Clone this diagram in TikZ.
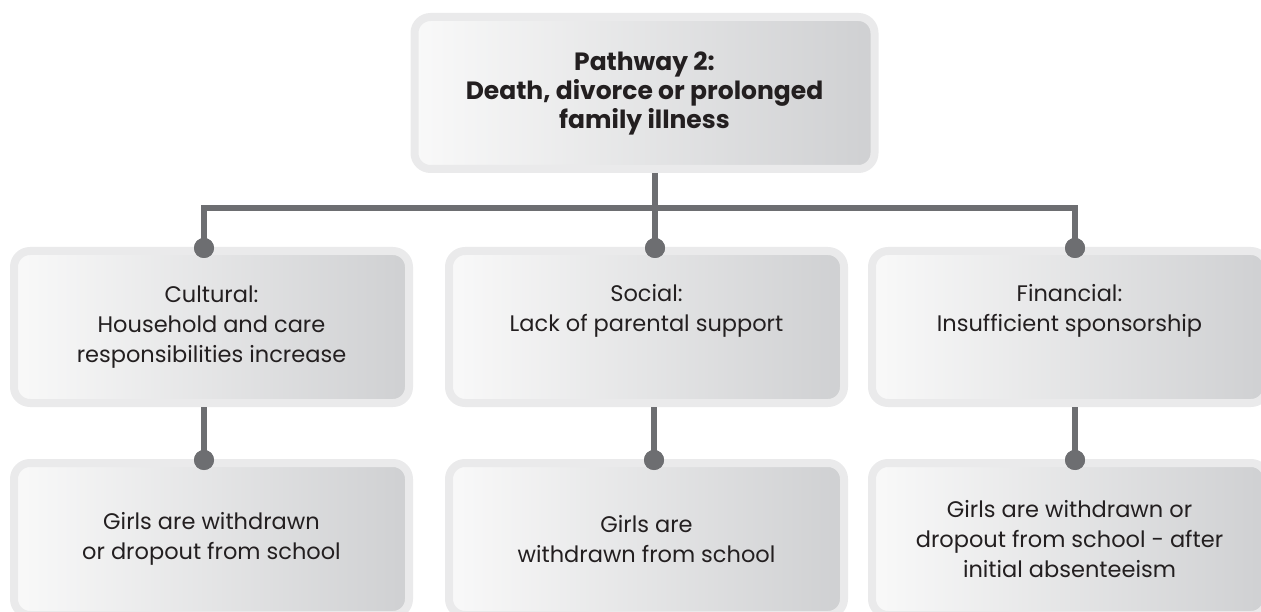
\documentclass[tikz,border=0pt]{standalone}
\usepackage{fontspec}
\setmainfont{Poppins}
\usepackage{xcolor}
\usepackage{tikz}
\usetikzlibrary{positioning,calc}
\definecolor{cRim}{RGB}{234,234,235}
\definecolor{cHi}{RGB}{249,249,249}
\definecolor{cLo}{RGB}{207,208,210}
\definecolor{cLink}{RGB}{109,110,113}
\definecolor{cText}{RGB}{35,31,32}
\tikzset{
  box/.style={draw=cRim, line width=8pt, rounded corners=16pt,
              left color=cHi, right color=cLo,
              minimum width=395pt, minimum height=152pt, inner sep=0pt,
              align=center, text=cText, font=\fontsize{22.5}{30}\selectfont},
  headbox/.style={box, minimum width=460pt,
              font=\fontsize{25}{29}\selectfont\bfseries},
  link/.style={draw=cLink, line width=6pt},
  dot/.style={circle, fill=cLink, minimum size=20pt, inner sep=0pt},
}

\begin{document}
\begin{tikzpicture}[x=1pt, y=-1pt]
  \useasboundingbox (0,0) rectangle (1261,612);

  % causes
  \node[box] (c1) at (211.5,327) {Cultural:\\ Household and care\\ responsibilities increase};
  \node[box, right=32pt of c1] (c2) {Social:\\ Lack of parental support\\ \strut};
  \node[box, right=20pt of c2] (c3) {Financial:\\ Insufficient sponsorship\\ \strut};

  % pathway
  \node[headbox, above=74pt of c2, xshift=-2pt] (top) {Pathway 2:\\ Death, divorce or prolonged\\ family illness};

  % outcomes
  \node[box, below=52pt of c1] (o1) {Girls are withdrawn\\ or dropout from school};
  \node[box, below=52pt of c2] (o2) {Girls are\\ withdrawn from school};
  \node[box, below=52pt of c3] (o3) {Girls are withdrawn or\\ dropout from school - after\\ initial absenteeism};

  % links
  \coordinate (bus) at (655,208);
  \node[dot] (d1) at (204,248) {};
  \node[dot] (d2) at (655,248) {};
  \node[dot] (d3) at (1075,248) {};
  \node[dot] (e1) at (204,460) {};
  \node[dot] (e2) at (654,460) {};
  \node[dot] (e3) at (1075,460) {};

  \draw[link] (top.south -| bus) -- (bus);
  \draw[link] (d1.center) |- (bus) -| (d3.center);
  \draw[link] (d2.center) -- (bus);
  \draw[link] (c1.south -| e1) -- (e1.center);
  \draw[link] (c2.south -| e2) -- (e2.center);
  \draw[link] (c3.south -| e3) -- (e3.center);
  \foreach \d in {d1,d2,d3,e1,e2,e3} \node[dot] at (\d) {};
\end{tikzpicture}
\end{document}
